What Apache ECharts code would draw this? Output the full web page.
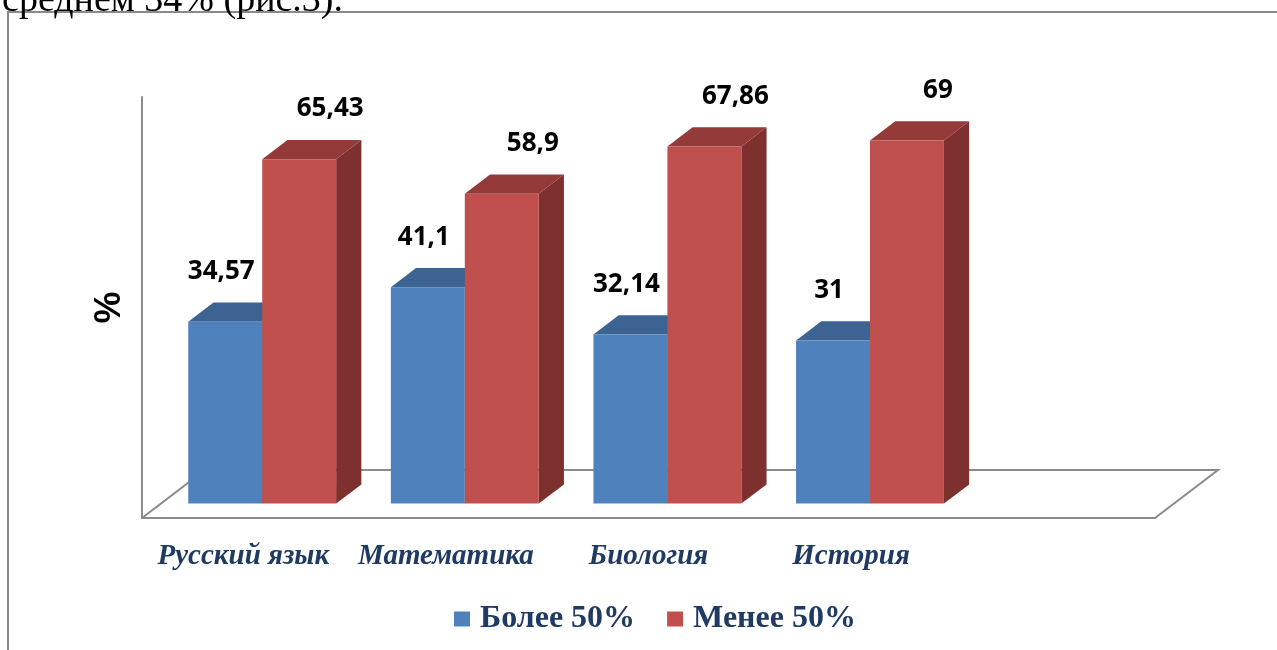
<!DOCTYPE html>
<html>
<head>
<meta charset="utf-8">
<script src="https://cdn.jsdelivr.net/npm/echarts@6/dist/echarts.min.js"></script>
<style>
html,body{margin:0;padding:0;background:#fff;}
#chart{width:1277px;height:650px;}
</style>
</head>
<body>
<div id="chart"></div>
<script>
// ---- data ----
const categories = ['Русский язык', 'Математика', 'Биология', 'История', ''];
const seriesNames = ['Более 50%', 'Менее 50%'];
const moreThan50 = [34.57, 41.1, 32.14, 31];
const lessThan50 = [65.43, 58.9, 67.86, 69];
const yMin = 0, yMax = 80, yInterval = 10;

// ---- 3D look (styles / geometry) ----
const DEPTH_X = 63, DEPTH_Y = -48;     // floor depth vector in px
const F_FRONT = 0.30, F_DEPTH = 0.40;  // bar position inside floor depth
const BAR_RATIO = 0.365;
const NAVY = '#1F3A63';
const faces = [
  {front: '#4F81BD', top: '#3D6393', side: '#34557F', labelDx: -4},
  {front: '#C0504D', top: '#943A38', side: '#7E302E', labelDx: 31}
];

function fmt(v) { return String(v).replace('.', ','); }

function makeRender(sIdx) {
  const f = faces[sIdx];
  return function (params, api) {
    const i = api.value(0), v = api.value(1);
    const base = api.coord([i, 0]);
    const top = api.coord([i, v]);
    const band = api.size([1, 0])[0];
    const w = band * BAR_RATIO;
    const x0 = base[0] + DEPTH_X * F_FRONT + (sIdx === 0 ? -w : 0);
    const x1 = x0 + w;
    const yb = base[1] + DEPTH_Y * F_FRONT;
    const yt = top[1] + DEPTH_Y * F_FRONT;
    const dx = DEPTH_X * F_DEPTH, dy = DEPTH_Y * F_DEPTH;
    return {
      type: 'group',
      children: [
        {type: 'polygon', shape: {points: [[x1, yt], [x1 + dx, yt + dy], [x1 + dx, yb + dy], [x1, yb]]},
         style: {fill: f.side}},
        {type: 'polygon', shape: {points: [[x0, yt], [x1, yt], [x1 + dx, yt + dy], [x0 + dx, yt + dy]]},
         style: {fill: f.top}},
        {type: 'rect', shape: {x: x0, y: yt, width: w, height: yb - yt},
         style: {fill: f.front}},
        {type: 'text', x: x0 + w / 2 + f.labelDx, y: yt + dy - 31,
         style: {text: fmt(v), fill: '#000', font: 'bold 26px "Open Sans"', textAlign: 'center', textVerticalAlign: 'middle'}}
      ]
    };
  };
}

function renderFloor(params, api) {
  const n = categories.length;
  const band = api.size([1, 0])[0];
  const c0 = api.coord([0, 0]);
  const cn = api.coord([n - 1, 0]);
  const fl = [c0[0] - band / 2, c0[1]];
  const fr = [cn[0] + band / 2, cn[1]];
  const lineStyle = {stroke: '#8A8A8A', lineWidth: 2, fill: null};
  return {
    type: 'group',
    children: [
      {type: 'polyline', shape: {points: [[fl[0], fl[1]], [fl[0] + DEPTH_X, fl[1] + DEPTH_Y], [fr[0] + DEPTH_X, fr[1] + DEPTH_Y], [fr[0], fr[1]]]},
       style: lineStyle}
    ]
  };
}

const chart = echarts.init(document.getElementById('chart'));
chart.setOption({
  animation: false,
  backgroundColor: '#fff',
  color: [faces[0].front, faces[1].front],
  graphic: [
    {type: 'rect', shape: {x: 8, y: 12, width: 1400, height: 800}, style: {fill: null, stroke: '#8A8A8A', lineWidth: 2}, z: -10},
    {type: 'text', x: 343, y: 20, style: {text: 'среднем 34% (рис.3).', font: '38px "Liberation Serif"', fill: '#000', textAlign: 'right', textVerticalAlign: 'bottom'}}
  ],
  grid: {left: 142, right: 122, top: 97, bottom: 132},
  legend: {
    left: 454, top: 603, padding: 0,
    icon: 'rect', itemWidth: 16, itemHeight: 15, itemGap: 32,
    textStyle: {fontFamily: 'Liberation Serif', fontWeight: 'bold', fontSize: 32, color: NAVY, padding: [0, 0, 0, 5]},
    data: seriesNames
  },
  xAxis: {
    type: 'category',
    data: categories,
    axisLine: {show: true, lineStyle: {color: '#8A8A8A', width: 2}},
    axisTick: {show: false},
    axisLabel: {margin: 24, fontFamily: 'Liberation Serif', fontStyle: 'italic', fontWeight: 'bold', fontSize: 29, color: NAVY, interval: 0}
  },
  yAxis: {
    type: 'value', min: yMin, max: yMax, interval: yInterval,
    name: '%', nameLocation: 'middle', nameRotate: 90, nameGap: 14,
    nameTextStyle: {fontFamily: 'Liberation Sans', fontWeight: 'bold', fontSize: 36, color: '#000'},
    axisLine: {show: true, lineStyle: {color: '#8A8A8A', width: 2}},
    axisTick: {show: false},
    axisLabel: {show: false},
    splitLine: {show: false}
  },
  series: [
    {type: 'custom', name: 'floor', renderItem: renderFloor, data: [[0, 0]], z: 1, silent: true},
    {type: 'custom', name: seriesNames[0], renderItem: makeRender(0), itemStyle: {color: faces[0].front},
     data: moreThan50.map((v, i) => [i, v]), z: 2},
    {type: 'custom', name: seriesNames[1], renderItem: makeRender(1), itemStyle: {color: faces[1].front},
     data: lessThan50.map((v, i) => [i, v]), z: 3}
  ]
});
</script>
</body>
</html>
